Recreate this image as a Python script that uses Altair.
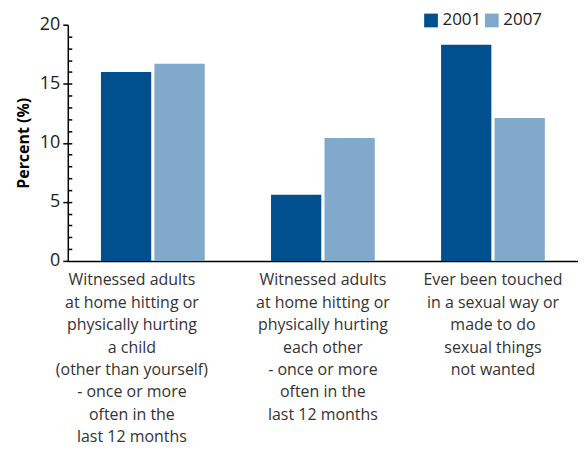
import altair as alt
import pandas as pd

categories = [
    "Witnessed adults|at home hitting or|physically hurting|a child|(other than yourself)|- once or more|often in the|last 12 months",
    "Witnessed adults|at home hitting or|physically hurting|each other|- once or more|often in the|last 12 months",
    "Ever been touched|in a sexual way or|made to do|sexual things|not wanted",
]
years = ["2001", "2007"]
values_2001 = [16.0, 5.6, 18.3]
values_2007 = [16.7, 10.4, 12.1]
colors = ["#00508F", "#80A9CB"]

rows = []
for c, a, b in zip(categories, values_2001, values_2007):
    rows.append({"cat": c, "year": "2001", "value": a})
    rows.append({"cat": c, "year": "2007", "value": b})
df = pd.DataFrame(rows)

FONT = "Open Sans"
W, H = 512, 237

x = alt.X("cat:N", sort=categories, title=None,
          scale=alt.Scale(paddingInner=0.39, paddingOuter=0.195),
          axis=alt.Axis(labelExpr="split(datum.label, '|')", labelAngle=0,
                        labelFontSize=16, labelColor="#333333", labelFont=FONT,
                        labelLineHeight=22.5, labelPadding=11, ticks=False,
                        labelOffset={"condition": {"test": "datum.index == 0", "value": -21}, "value": 0},
                        domainColor="#000000", domainWidth=1.5, labelLimit=300))

bars = alt.Chart(df).mark_bar().encode(
    x=x,
    xOffset=alt.XOffset("year:N", scale=alt.Scale(paddingInner=0.06)),
    y=alt.Y("value:Q", title="Percent (%)",
            scale=alt.Scale(domain=[0, 20], nice=False),
            axis=alt.Axis(values=[0, 5, 10, 15, 20], tickSize=5, tickColor="#000000",
                          domainColor="#000000", domainWidth=1.5, tickWidth=1.5,
                          grid=False, labelFontSize=18, labelColor="#222222",
                          labelFont=FONT, labelPadding=3,
                          titleFont=FONT, titleFontSize=16, titleFontWeight="bold",
                          titleColor="#000000", titlePadding=8)),
    color=alt.Color("year:N", scale=alt.Scale(domain=years, range=colors),
                    legend=alt.Legend(title=None, orient="none", legendX=356, legendY=-13,
                                      direction="horizontal", symbolType="square",
                                      symbolSize=190, symbolStrokeWidth=0,
                                      labelFontSize=17, labelFont=FONT,
                                      labelColor="#222222", columnPadding=2,
                                      labelOffset=3)),
)

minor = alt.Chart(df).mark_bar(opacity=0).encode(
    x=x,
    y=alt.Y("value:Q", scale=alt.Scale(domain=[0, 20], nice=False), title=None,
            axis=alt.Axis(orient="right", offset=-W, values=list(range(1, 20)),
                          labels=False, domain=False, tickSize=4, tickWidth=1.5,
                          tickColor="#000000", grid=False)),
)

chart = alt.layer(bars, minor).resolve_axis(y="independent").resolve_scale(y="shared").properties(
    width=W, height=H,
    autosize=alt.AutoSizeParams(type="none"),
    padding={"left": 60, "top": 16, "right": 0, "bottom": 190},
).configure_view(stroke=None)

chart.save("out.html", embed_options={"renderer": "svg", "actions": False})
